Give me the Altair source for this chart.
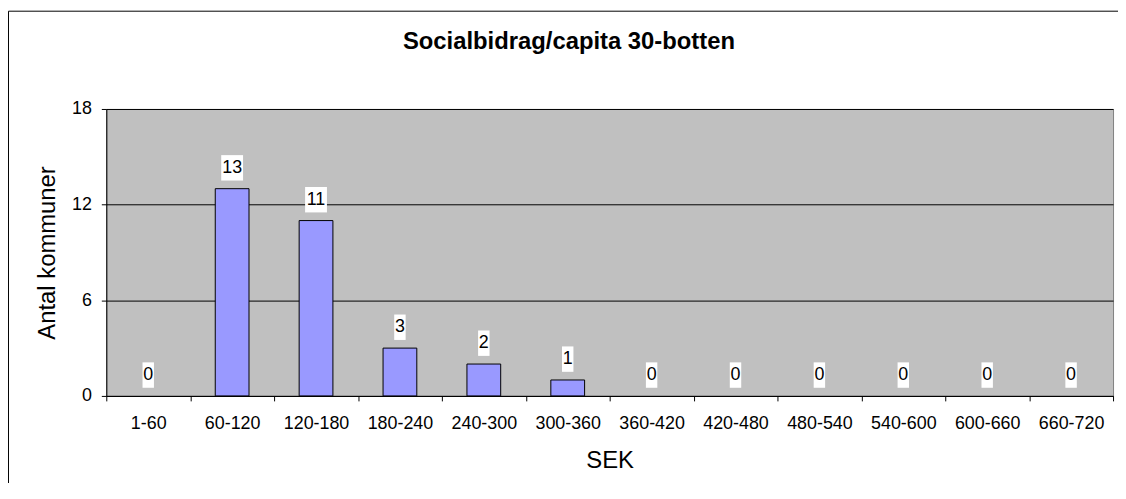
import altair as alt
import pandas as pd

categories = ["1-60", "60-120", "120-180", "180-240", "240-300", "300-360",
              "360-420", "420-480", "480-540", "540-600", "600-660", "660-720"]
counts = [0, 13, 11, 3, 2, 1, 0, 0, 0, 0, 0, 0]
y_ticks = [0, 6, 12, 18]
chart_title = "Socialbidrag/capita 30-botten"
x_title = "SEK"
y_title = "Antal kommuner"

df = pd.DataFrame({"bin": categories, "count": counts})
df["label"] = df["count"].astype(str)
df["digits"] = df["label"].str.len().astype(str)

FONT = "Liberation Sans, Arial, sans-serif"

x_enc = alt.X(
    "bin:N", sort=categories,
    scale=alt.Scale(paddingInner=0, paddingOuter=0),
    axis=alt.Axis(
        title=x_title, titleFont=FONT, titleFontSize=24, titleFontWeight="normal",
        titleColor="black", titleY=72, titleBaseline="alphabetic",
        labelAngle=0, labelFont=FONT, labelFontSize=18, labelColor="black",
        labelPadding=14, tickBand="extent", tickSize=5, tickColor="black",
        domainColor="black", grid=False,
    ),
)
y_enc = alt.Y(
    "count:Q",
    scale=alt.Scale(domain=[0, 18], nice=False),
    axis=alt.Axis(
        title=y_title, titleFont=FONT, titleFontSize=24, titleFontWeight="normal",
        titleColor="black", titleX=-52, titleBaseline="alphabetic",
        values=y_ticks, labelFont=FONT, labelFontSize=18, labelColor="black",
        labelPadding=10, tickSize=5, tickColor="black", domainColor="black",
        grid=True, gridColor="black", gridWidth=1,
    ),
)

box_paths = ["M-0.45,-1H0.45V1H-0.45Z", "M-0.86,-1H0.86V1H-0.86Z"]

border = alt.Chart(pd.DataFrame({"k": [0]})).mark_rect(
    fillOpacity=0, stroke="black", strokeWidth=1
).encode(
    x=alt.value(-98.5), x2=alt.value(1040), y=alt.value(-98.5), y2=alt.value(420)
)

bars = alt.Chart(df).transform_filter("datum.count > 0").mark_bar(
    width=34, fill="#9999FF", stroke="black", strokeWidth=1
).encode(x=x_enc, y=y_enc)

boxes = alt.Chart(df).mark_point(
    filled=True, color="white", opacity=1, strokeWidth=0, size=655, yOffset=-21
).encode(
    x=x_enc, y=y_enc,
    shape=alt.Shape("digits:N", scale=alt.Scale(domain=["1", "2"], range=box_paths), legend=None),
)

labels = alt.Chart(df).mark_text(
    font=FONT, fontSize=18, color="black", align="center", baseline="middle", yOffset=-21
).encode(x=x_enc, y=y_enc, text="label:N")

title = alt.Chart(pd.DataFrame({"k": [0]})).mark_text(
    font=FONT, fontSize=24, fontWeight="bold", color="black",
    align="center", baseline="alphabetic"
).encode(x=alt.value(466), y=alt.value(-60), text=alt.value(chart_title))

chart = alt.layer(border, bars, boxes, labels, title).properties(
    width=1014, height=289,
    autosize=alt.AutoSizeParams(type="none"),
    padding={"left": 99, "top": 100, "right": 5, "bottom": 86},
).configure(background="white").configure_view(
    fill="#C0C0C0", stroke="#808080", strokeWidth=1
)

chart.save("out.html", embed_options={"renderer": "svg", "actions": False})
